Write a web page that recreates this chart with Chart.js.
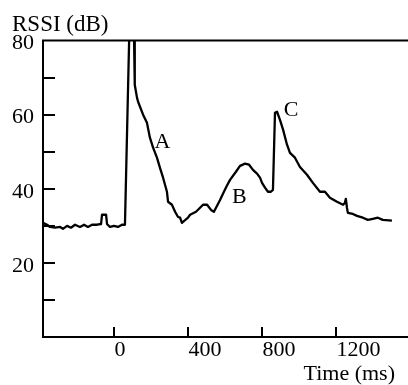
<!DOCTYPE html>
<html>
<head>
<meta charset="utf-8">
<script src="https://cdn.jsdelivr.net/npm/chart.js@4/dist/chart.umd.min.js"></script>
<style>
  html, body { margin: 0; padding: 0; background: #fff; }
</style>
</head>
<body>
<canvas id="rssiChart" width="408" height="385"></canvas>
<script>
// RSSI trace (time in ms, RSSI in dB)
const timeMs = [
  -386, -364, -348, -321, -294, -278, -256, -235, -213, -186, -164, -143, -121, -94, -72, -67, -45, -40, -24, -2, 19, 41, 57,
  85, 106, 109, 111, 122, 128, 155, 176, 192, 209, 230, 246, 263, 284, 290, 311, 328, 344, 355, 365, 371,
  398, 409, 441, 463, 479, 501, 522, 538, 571, 592, 608, 625, 657, 679, 706, 728, 749, 771, 787, 798, 814, 830, 846, 857,
  868, 879, 895, 912, 933, 949, 976, 1003, 1041, 1073, 1111, 1138, 1165, 1203, 1236, 1246, 1251, 1257, 1262, 1289, 1311, 1343, 1370, 1397, 1424, 1451, 1500
];
const rssiDb = [
  30.8, 30.3, 29.7, 29.5, 29.7, 29.2, 30.0, 29.5, 30.3, 29.7, 30.3, 29.7, 30.3, 30.3, 30.5, 33.0, 33.0, 30.5, 29.7, 30.0, 29.7, 30.3, 30.3,
  92, 81, 68.9, 68.1, 64.6, 63.5, 60.0, 57.8, 53.8, 51.1, 48.4, 45.7, 43.0, 39.2, 36.5, 35.7, 33.8, 32.4, 32.2, 30.8, 31.1,
  32.2, 33.0, 33.8, 34.9, 35.7, 35.7, 34.3, 33.8, 37.0, 39.2, 40.8, 42.4, 44.6, 46.2, 46.8, 46.5, 45.1, 44.1, 43.0, 41.6, 40.3, 39.2, 39.2, 39.7,
  60.5, 60.8, 58.6, 55.9, 51.9, 49.7, 48.4, 45.9, 43.8, 41.6, 39.2, 39.2, 37.6, 36.5, 35.7, 36.2, 37.3, 34.9, 33.5, 33.2, 32.7, 32.2, 31.6, 31.9, 32.2, 31.6, 31.4
];

// axis ticks
const xTickValues = [0, 400, 800, 1200];
const yTickLabels = [20, 40, 60, 80];
const yTickMarks = [10, 20, 30, 40, 50, 60, 70];

// letters placed next to the curve (in data units)
const noteText = ['A', 'B', 'C'];
const noteTime = [260, 675, 955];
const noteRssi = [52.6, 37.7, 61.3];

const serif = '"Liberation Serif", "Times New Roman", serif';
Chart.defaults.font.family = serif;
Chart.defaults.font.size = 22;
Chart.defaults.color = '#000';

// top frame line, inward tick marks, letters and the time label
const frameAndNotes = {
  id: 'frameAndNotes',
  afterDraw(chart) {
    const { ctx, chartArea: area, scales: { x, y } } = chart;
    ctx.save();
    ctx.strokeStyle = '#000';
    ctx.lineWidth = 2;
    ctx.beginPath();
    ctx.moveTo(area.left - 1, area.top);
    ctx.lineTo(area.right, area.top);
    yTickMarks.forEach(v => {
      const py = Math.round(y.getPixelForValue(v));
      ctx.moveTo(area.left, py);
      ctx.lineTo(area.left + 12, py);
    });
    xTickValues.forEach(v => {
      const px = Math.round(x.getPixelForValue(v));
      ctx.moveTo(px, area.bottom);
      ctx.lineTo(px, area.bottom - 10);
    });
    ctx.stroke();

    ctx.fillStyle = '#000';
    ctx.font = '22px ' + serif;
    ctx.textAlign = 'center';
    ctx.textBaseline = 'middle';
    noteText.forEach((t, i) => {
      ctx.fillText(t, x.getPixelForValue(noteTime[i]), y.getPixelForValue(noteRssi[i]));
    });

    ctx.textAlign = 'right';
    ctx.textBaseline = 'alphabetic';
    ctx.fillText('Time (ms)', area.right - 13, chart.height - 5);
    ctx.restore();
  }
};

new Chart(document.getElementById('rssiChart'), {
  type: 'line',
  data: {
    datasets: [{
      data: timeMs.map((t, i) => ({ x: t, y: rssiDb[i] })),
      borderColor: '#000',
      borderWidth: 2.3,
      borderJoinStyle: 'round',
      pointRadius: 0,
      tension: 0,
      fill: false
    }]
  },
  options: {
    responsive: false,
    animation: false,
    layout: { padding: { left: 12, top: 0, right: 0, bottom: 0 } },
    plugins: {
      legend: { display: false },
      tooltip: { enabled: false },
      title: {
        display: true,
        text: 'RSSI (dB)',
        align: 'start',
        color: '#000',
        font: { size: 23, weight: 'normal' },
        padding: { top: 11, bottom: 2 }
      }
    },
    scales: {
      x: {
        type: 'linear',
        min: -386,
        max: 1587,
        afterBuildTicks: scale => { scale.ticks = xTickValues.map(v => ({ value: v })); },
        afterFit: scale => { scale.height = 48; },
        grid: { display: false, drawTicks: false },
        border: { display: true, color: '#000', width: 2 },
        ticks: { align: 'start', padding: 0, color: '#000', font: { size: 22 }, callback: v => String(v) }
      },
      y: {
        type: 'linear',
        min: 0,
        max: 80,
        afterBuildTicks: scale => { scale.ticks = yTickLabels.map(v => ({ value: v })); },
        afterFit: scale => { scale.width = 31; },
        grid: { display: false, drawTicks: false },
        border: { display: true, color: '#000', width: 2 },
        ticks: { padding: 9, labelOffset: 3, color: '#000', font: { size: 22 }, callback: v => String(v) }
      }
    }
  },
  plugins: [frameAndNotes]
});
</script>
</body>
</html>
